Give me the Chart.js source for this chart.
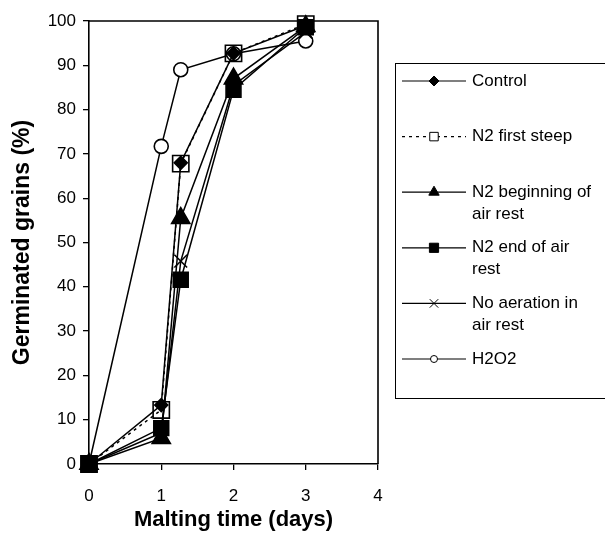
<!DOCTYPE html>
<html><head><meta charset="utf-8">
<script src="https://cdn.jsdelivr.net/npm/chart.js@4/dist/chart.umd.min.js"></script>
<style>html,body{margin:0;padding:0;background:#fff;}#wrap{position:relative;width:605px;height:534px;}</style>
</head><body><div id="wrap"><canvas id="c" width="605" height="534"></canvas></div>
<script>
// ---- data ----
const seriesNames = [["Control"], ["N2 first steep"], ["N2 beginning of", "air rest"], ["N2 end of air", "rest"], ["No aeration in", "air rest"], ["H2O2"]];
const maltingTime = [0, 1, 1.27, 2, 3];
const control = [0, 13.3, 68, 92.7, 99];
const n2FirstSteep = [0, 12.2, 67.8, 92.7, 99.3];
const n2Beginning = [0, 5.8, 55.5, 87, 98.8];
const n2End = [0, 8.1, 41.6, 84.5, 98.6];
const noAeration = [0, 7, 45.8, 85.5, 97.5];
const h2o2 = [0, 71.7, 89, 92.6, 95.5];
const xTickValues = [0, 1, 2, 3, 4];
const yTickValues = [0, 10, 20, 30, 40, 50, 60, 70, 80, 90, 100];

// ---- styles ----
const FONT = '"Liberation Sans", Arial, sans-serif';
const allSeries = [control, n2FirstSteep, n2Beginning, n2End, noAeration, h2o2];
const styles = [
  {ps: 'rectRot', r: 6.5, lr: 5, fill: '#000', dash: []},
  {ps: 'rect', r: 11.5, lr: 6, fill: 'rgba(0,0,0,0)', dash: [3, 4]},
  {ps: 'triangle', r: 10.5, lr: 6, fill: '#000', dash: []},
  {ps: 'rect', r: 10.5, lr: 6.5, fill: '#000', dash: []},
  {ps: 'crossRot', r: 9, lr: 6, fill: '#000', dash: []},
  {ps: 'circle', r: 7, lr: 3.5, fill: '#fff', dash: []}
];
const datasets = allSeries.map((vals, i) => ({
  label: seriesNames[i].join(' '),
  data: maltingTime.map((t, k) => ({x: t, y: vals[k]})),
  borderColor: '#000',
  borderWidth: 1.5,
  borderDash: styles[i].dash,
  pointStyle: styles[i].ps,
  pointRadius: styles[i].r,
  pointHoverRadius: styles[i].r,
  pointBackgroundColor: styles[i].fill,
  pointBorderColor: '#000',
  pointBorderWidth: 1.6,
  fill: false,
  tension: 0,
  clip: false
}));

const boxPlugin = {
  id: 'box',
  beforeDatasetsDraw(chart) {
    const {ctx, chartArea: a} = chart;
    ctx.save();
    ctx.strokeStyle = '#000'; ctx.lineWidth = 1.6;
    ctx.beginPath();
    ctx.moveTo(a.left, a.top); ctx.lineTo(a.right, a.top); ctx.lineTo(a.right, a.bottom);
    ctx.stroke();
    ctx.restore();
  }
};

const legendPlugin = {
  id: 'sideLegend',
  afterDraw(chart) {
    const ctx = chart.ctx;
    ctx.save();
    ctx.strokeStyle = '#000'; ctx.lineWidth = 1;
    ctx.strokeRect(395.5, 63.5, 260, 335);
    chart.data.datasets.forEach((ds, i) => {
      const y = 81 + i * 55.6;
      ctx.beginPath();
      ctx.setLineDash(ds.borderDash || []);
      ctx.lineWidth = 1.2; ctx.strokeStyle = '#000';
      ctx.moveTo(402, y); ctx.lineTo(466, y); ctx.stroke();
      ctx.setLineDash([]);
      ctx.fillStyle = styles[i].fill === 'rgba(0,0,0,0)' ? '#fff' : styles[i].fill;
      ctx.lineWidth = 1;
      Chart.helpers.drawPoint(ctx, {pointStyle: ds.pointStyle, radius: styles[i].lr, rotation: 0, borderWidth: 1}, 434, y);
      ctx.fillStyle = '#000';
      ctx.font = '17px ' + FONT;
      ctx.textBaseline = 'middle';
      ctx.textAlign = 'left';
      seriesNames[i].forEach((line, k) => ctx.fillText(line, 472, y + k * 22));
    });
    ctx.restore();
  }
};

new Chart(document.getElementById('c'), {
  type: 'line',
  data: {datasets},
  plugins: [boxPlugin, legendPlugin],
  options: {
    responsive: false,
    animation: false,
    devicePixelRatio: 1,
    layout: {padding: {top: 21, right: 227, left: 0, bottom: 0}},
    plugins: {legend: {display: false}, tooltip: {enabled: false}},
    scales: {
      x: {
        type: 'linear', min: 0, max: 4,
        afterBuildTicks: s => { s.ticks = xTickValues.map(v => ({value: v})); },
        afterFit: s => { s.height = 70; },
        ticks: {color: '#000', font: {family: FONT, size: 17}, padding: 16},
        grid: {drawOnChartArea: false, drawTicks: true, tickLength: 6, color: '#000', lineWidth: 1.3},
        border: {display: true, color: '#000', width: 1.6},
        title: {display: true, text: 'Malting time (days)', color: '#000', font: {family: FONT, size: 22, weight: 'bold'}, padding: {top: 0, bottom: 1}}
      },
      y: {
        type: 'linear', min: 0, max: 100,
        afterBuildTicks: s => { s.ticks = yTickValues.map(v => ({value: v})); },
        afterFit: s => { s.width = 89; },
        ticks: {color: '#000', font: {family: FONT, size: 17}, padding: 7},
        grid: {drawOnChartArea: false, drawTicks: true, tickLength: 6, color: '#000', lineWidth: 1.3},
        border: {display: true, color: '#000', width: 1.6},
        title: {display: true, text: 'Germinated grains (%)', color: '#000', font: {family: FONT, size: 23, weight: 'bold'}, padding: {top: 9, bottom: 0}}
      }
    }
  }
});
</script></body></html>
